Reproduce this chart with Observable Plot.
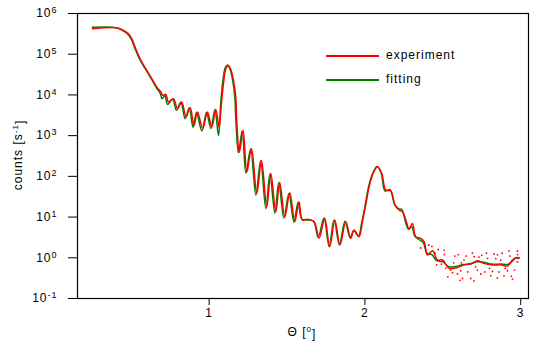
<!DOCTYPE html>
<html><head><meta charset="utf-8">
<script src="https://cdn.jsdelivr.net/npm/d3@7"></script>
<script src="https://cdn.jsdelivr.net/npm/@observablehq/plot@0.6"></script>
<style>
body{margin:0;background:#fff;font-family:"Liberation Sans",Arial,sans-serif;}
#wrap{position:relative;width:555px;height:352px;}
.legline{position:absolute;height:2px;width:53px;left:326px;}
.legtext{position:absolute;left:386px;font-size:12px;line-height:14px;letter-spacing:1px;color:#000;}
</style></head><body><div id="wrap"></div>
<script>
// experiment (red)
const expTheta = [0.251,0.407,0.450,0.482,0.504,0.525,0.547,0.568,0.600,0.632,0.664,0.690,0.702,0.722,0.739,0.771,0.797,0.824,0.852,0.878,0.903,0.925,0.959,0.989,1.017,1.043,1.064,1.079,1.092,1.107,1.122,1.139,1.156,1.171,1.177,1.194,1.218,1.242,1.272,1.306,1.336,1.370,1.396,1.428,1.453,1.486,1.518,1.550,1.577,1.599,1.631,1.674,1.706,1.742,1.774,1.807,1.840,1.877,1.909,1.930,1.962,1.984,2.005,2.027,2.048,2.081,2.108,2.134,2.166,2.193,2.219,2.241,2.269,2.283,2.305,2.326,2.358,2.380,2.401,2.434,2.466,2.498,2.540,2.594,2.636,2.679,2.722,2.765,2.808,2.872,2.915,2.947,2.968,2.989];
const expCounts = [4.2e5,4.47e5,3.83e5,3.18e5,2.4e5,1.49e5,9.3e4,6.4e4,4.0e4,2.5e4,1.56e4,1.18e4,9.8e3,1.03e4,6.7e3,8.1e3,4.6e3,6.7e3,2.87e3,4.9e3,1.8e3,3.8e3,1.49e3,3.8e3,1.63e3,4.4e3,1.6e3,6.2e3,1.9e4,4.4e4,5.3e4,4.2e4,2.28e4,8.9e3,2.4e3,392,1360,129,483,38,250,17.9,118,13.5,71,10.2,39.5,7.7,23.7,8.4,8.9,7.7,3.0,9.3,1.87,8.4,2.06,7.7,3.0,4.8,3.3,7.7,19.7,55,107,171,118,45.9,44,19.7,14.9,13.5,7.0,5.0,7.0,3.3,3.0,2.5,1.17,1.49,0.88,0.88,0.55,0.58,0.67,0.70,0.84,0.73,0.67,0.67,0.63,0.88,1.0,0.97];
// experiment scatter in the noisy tail
const noiseTheta = [2.358,2.41,2.43,2.45,2.46,2.47,2.49,2.508,2.51,2.519,2.532,2.55,2.562,2.57,2.577,2.594,2.60,2.61,2.615,2.62,2.626,2.636,2.65,2.66,2.679,2.69,2.70,2.701,2.71,2.722,2.733,2.744,2.75,2.77,2.78,2.787,2.80,2.808,2.819,2.829,2.84,2.85,2.851,2.86,2.872,2.88,2.893,2.90,2.915,2.925,2.93,2.94,2.947,2.96,2.979,2.979,2.98];
const noiseCounts = [1.74,2.06,1.9,1.3,0.67,1.6,0.7,1.55,1.2,0.55,0.34,0.5,0.43,0.75,1.1,0.40,1.2,0.28,0.48,0.75,0.31,0.88,1.1,0.45,0.31,1.3,0.27,1.06,0.6,0.50,1.04,0.40,1.15,0.45,1.3,0.97,0.55,0.36,0.46,1.24,0.95,0.32,1.18,0.45,0.88,1.3,0.36,0.55,0.48,1.47,1.1,0.35,0.30,0.5,1.47,0.79,1.2];
// fitting (green)
const fitTheta = [0.25,0.40,0.445,0.478,0.50,0.522,0.545,0.566,0.598,0.630,0.662,0.688,0.697,0.716,0.733,0.765,0.790,0.818,0.846,0.872,0.897,0.919,0.953,0.983,1.011,1.037,1.060,1.074,1.087,1.102,1.117,1.134,1.151,1.165,1.172,1.188,1.212,1.236,1.266,1.300,1.330,1.364,1.390,1.422,1.447,1.480,1.512,1.544,1.571,1.595,1.63,1.67,1.700,1.737,1.770,1.802,1.836,1.872,1.905,1.928,1.958,1.980,2.001,2.023,2.045,2.078,2.105,2.128,2.16,2.19,2.215,2.236,2.262,2.28,2.30,2.322,2.354,2.376,2.398,2.43,2.46,2.50,2.54,2.59,2.63,2.68,2.72,2.76,2.81,2.87,2.92,2.95,2.97,2.99];
const fitCounts = [4.6e5,4.5e5,3.8e5,3.1e5,2.35e5,1.45e5,9.0e4,6.2e4,3.9e4,2.45e4,1.5e4,1.05e4,8.0e3,9.5e3,5.8e3,7.8e3,4.2e3,6.6e3,2.6e3,4.8e3,1.6e3,3.7e3,1.3e3,3.7e3,1.5e3,4.3e3,1.0e3,6.0e3,2.0e4,4.5e4,5.4e4,4.3e4,2.3e4,8.5e3,2.2e3,380,1300,120,470,35,240,16,115,12.5,70,9.5,38,7.5,23,9,8.5,7.9,3.2,9.5,1.9,8.6,2.1,7.9,3.1,4.6,3.4,7.5,19,54,106,175,120,44,47,21,16,15.5,7.2,5,5.8,3.3,2.7,2.3,1.3,1.2,0.85,0.8,0.6,0.62,0.68,0.72,0.8,0.78,0.7,0.7,0.7,0.85,1.0,1.0];
const yTicks = [0.1,1,10,100,1000,1e4,1e5,1e6];
const xTicks = [1,2,3];
const seriesNames = ["experiment","fitting"];
const seriesColors = ["#ff0000","#008000"];

const expData = expTheta.map((t,i)=>({t, c: expCounts[i]}));
const fitData = fitTheta.map((t,i)=>({t, c: fitCounts[i]}));
const noiseData = noiseTheta.map((t,i)=>({t, c: noiseCounts[i]}));

const chart = Plot.plot({
  width: 555, height: 352,
  marginLeft: 77, marginRight: 27, marginTop: 13, marginBottom: 54,
  style: {fontFamily: '"Liberation Sans", Arial, sans-serif', fontSize: "12px", color: "#000", background: "#fff"},
  x: {domain: [0.155, 3.05], ticks: xTicks, tickSize: 7, tickPadding: 3, tickFormat: d => String(d), label: null},
  y: {type: "log", domain: [0.1, 1e6], ticks: yTicks, tickSize: 9, tickPadding: 11, tickFormat: d => "10^" + Math.round(Math.log10(d)), label: null},
  marks: [
    Plot.line(fitData, {x: "t", y: "c", stroke: seriesColors[1], strokeWidth: 1.5, curve: "catmull-rom"}),
    Plot.dot(noiseData, {x: "t", y: "c", r: 0.9, fill: seriesColors[0], stroke: null}),
    Plot.line(expData, {x: "t", y: "c", stroke: seriesColors[0], strokeWidth: 1.5, curve: "catmull-rom"}),
    Plot.frame({stroke: "#000", strokeWidth: 1.2})
  ]
});
const wrap = document.getElementById("wrap");
wrap.appendChild(chart);

// superscript tick labels
d3.select(chart).selectAll('g[aria-label="y-axis tick label"] text').each(function(){
  const s = d3.select(this);
  const parts = s.text().split("^");
  s.text(null);
  s.append("tspan").text(parts[0]);
  s.append("tspan").attr("dy", "-0.45em").attr("font-size", "9px").text(parts[1]);
});
d3.select(chart).selectAll('g[aria-label="y-axis tick label"] text, g[aria-label="x-axis tick label"] text').attr("letter-spacing", "1");

// axis titles
const svg = d3.select(chart);
svg.append("text").attr("x", 302).attr("y", 336).attr("text-anchor", "middle")
  .attr("font-size", 12).attr("letter-spacing", 1)
  .call(t => { t.append("tspan").text("Θ ["); t.append("tspan").attr("dy","-0.45em").attr("font-size", 8).text("0"); t.append("tspan").attr("dy","0.45em").text("]"); });
svg.append("text").attr("transform", "translate(22,155) rotate(-90)").attr("text-anchor", "middle")
  .attr("font-size", 12).attr("letter-spacing", 1)
  .call(t => { t.append("tspan").text("counts [s"); t.append("tspan").attr("dy","-0.45em").attr("font-size", 8).text("-1"); t.append("tspan").attr("dy","0.45em").text("]"); });

// legend
seriesNames.forEach((name, i) => {
  const top = 55 + i * 23.5;
  const l = document.createElement("div");
  l.className = "legline"; l.style.top = top + "px"; l.style.background = seriesColors[i];
  wrap.appendChild(l);
  const tx = document.createElement("div");
  tx.className = "legtext"; tx.style.top = (top - 7) + "px"; tx.textContent = name;
  wrap.appendChild(tx);
});
</script>
</body></html>
